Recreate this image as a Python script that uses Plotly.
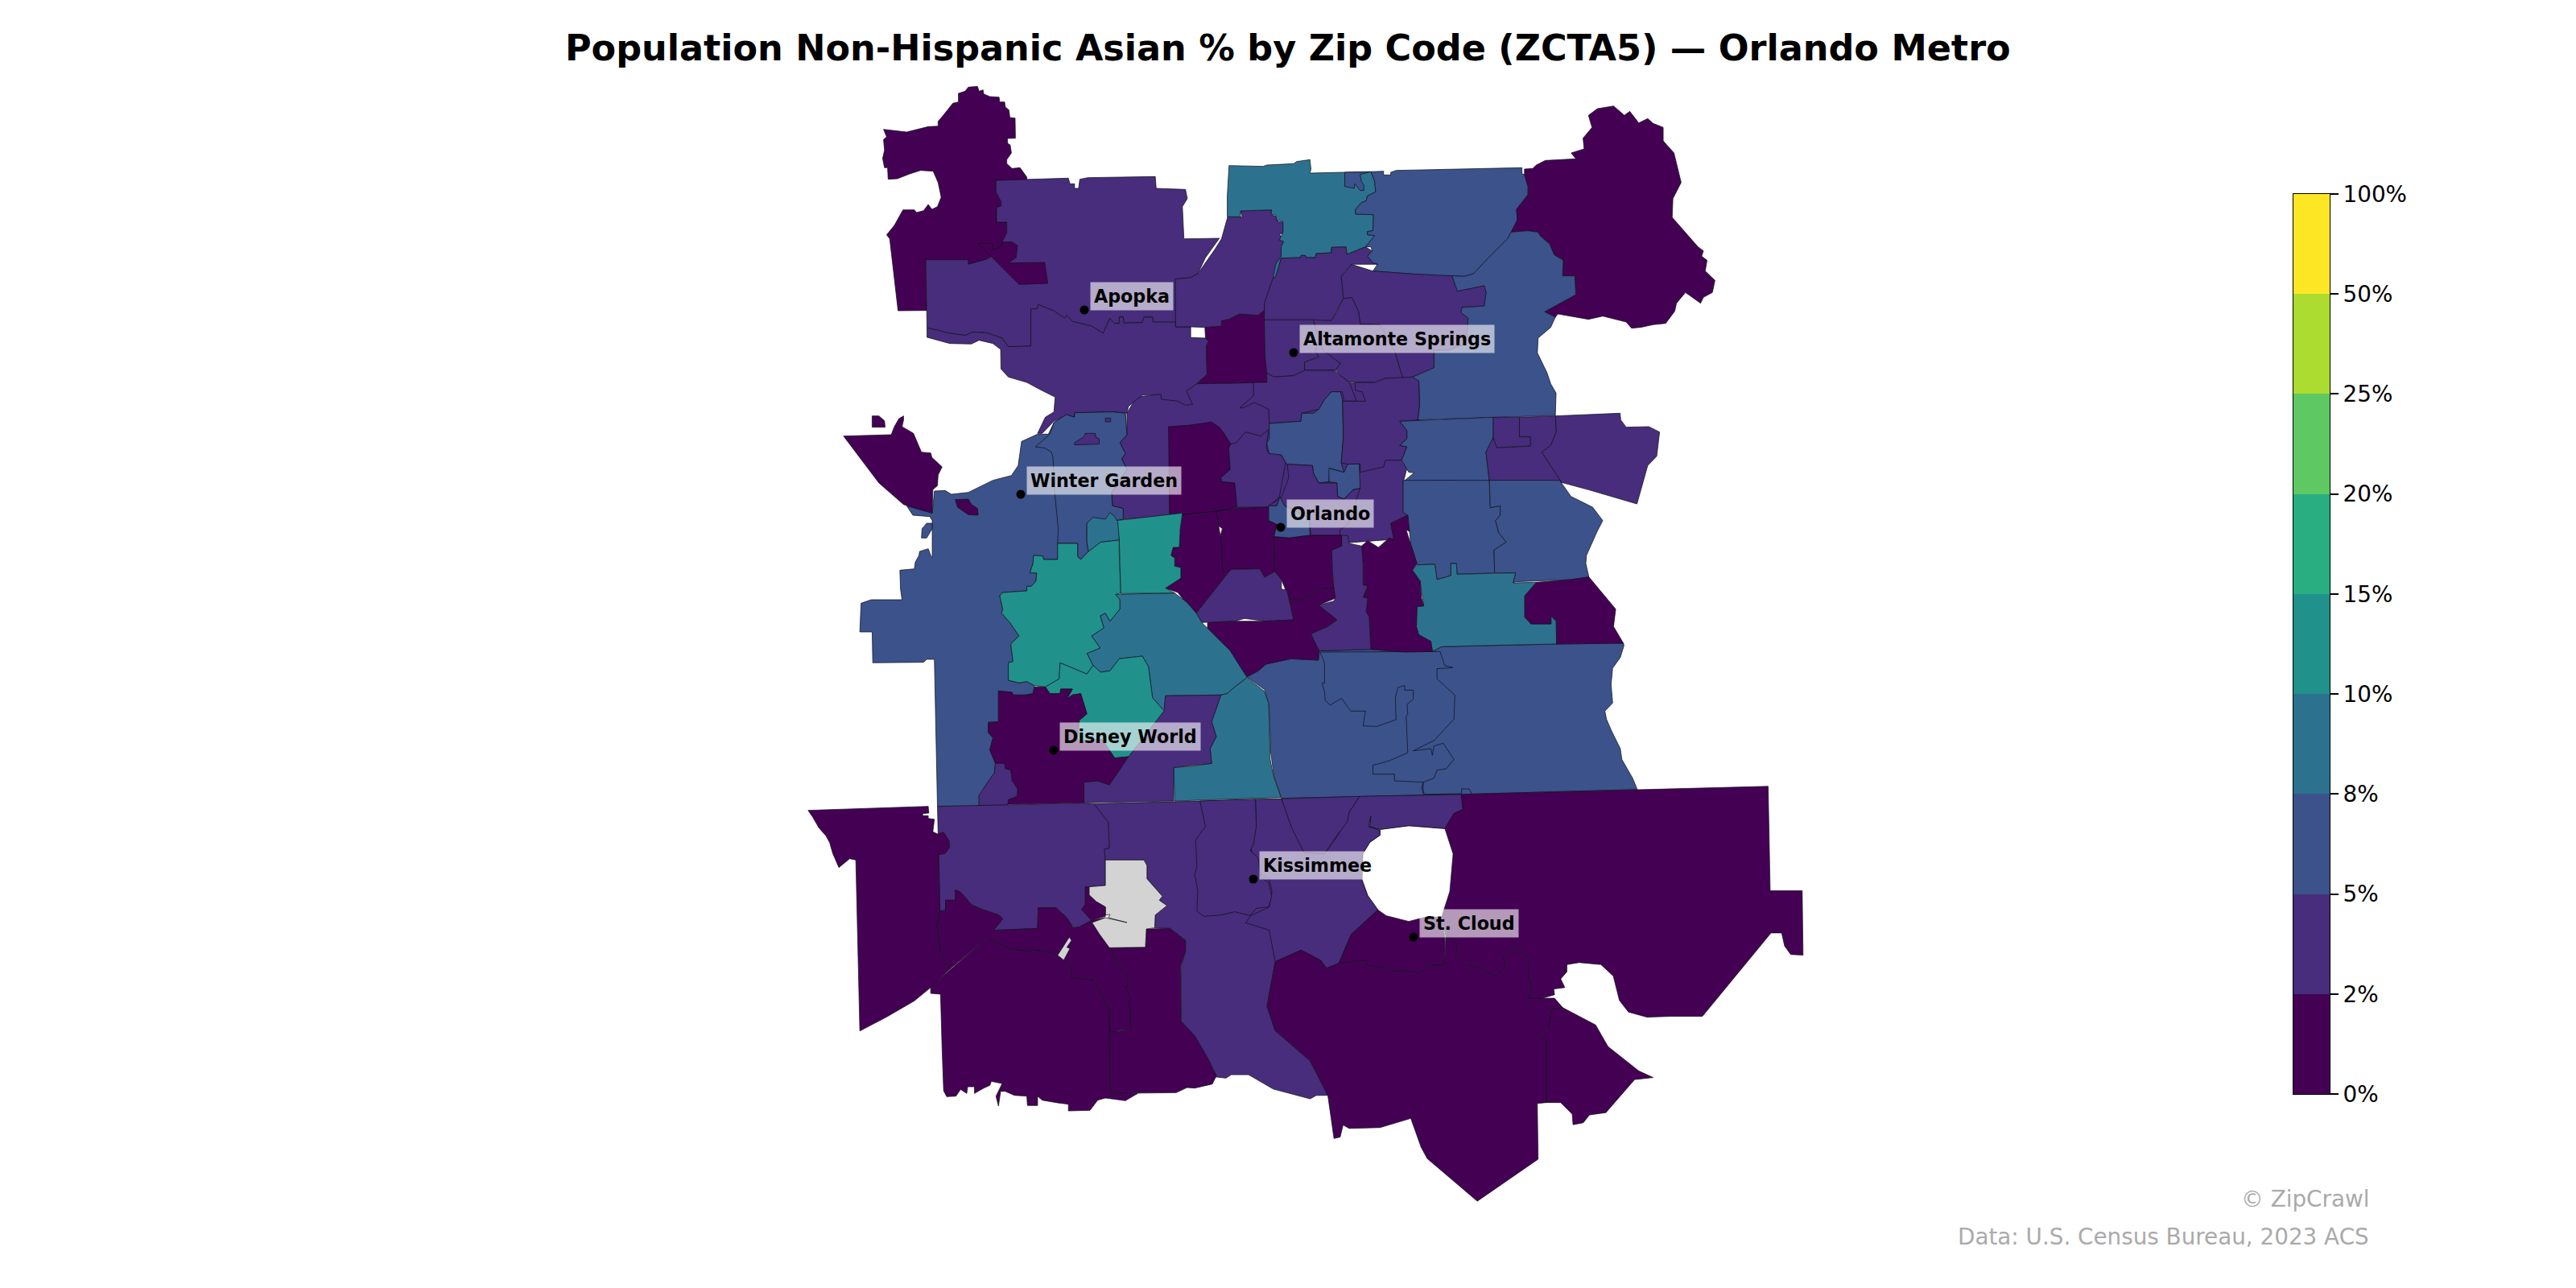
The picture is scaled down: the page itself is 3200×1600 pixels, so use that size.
import numpy as np
import plotly.graph_objects as go

TITLE = "Population Non-Hispanic Asian % by Zip Code (ZCTA5) — Orlando Metro"
BIN_EDGES = [0, 2, 5, 8, 10, 15, 20, 25, 50, 100]
BIN_LABELS = ["0%", "2%", "5%", "8%", "10%", "15%", "20%", "25%", "50%", "100%"]
BIN_COLORS = ["#440154", "#472d7b", "#3b528b", "#2c728e", "#21918c", "#28ae80", "#5ec962", "#addc30", "#fde725"]
NO_DATA = "#d3d3d3"

CITY_NAMES = ["Apopka", "Altamonte Springs", "Winter Garden", "Orlando", "Disney World", "Kissimmee", "St. Cloud"]
CITY_X = [1347, 1607, 1268, 1591, 1309, 1557, 1756]
CITY_Y = [385, 438, 614, 655, 932, 1092, 1164]

# digitising sheets: origin x, origin y, scale x, scale y
SHEETS = {"A": (1000, 90, 2.613, 3), "B": (1500, 110, 2.24, 3), "C": (1000, 500, 2.613, 3),
          "D": (1500, 600, 2.613, 3), "E": (1000, 950, 2.613, 3), "F": (1500, 950, 1.96, 2.8)}

# boundaries, each as (sheet, [x, y, x, y, ...]) runs
core = [("C", [1045,40,1075,-20]), ("A", [1238,1187,1272,1160,1500,1155]), ("B", [590,1100,590,1235]),
        ("D", [635,0,650,120,595,150,605,210,430,225,215,205]),
        ("C", [1510,400,1340,420,1225,420,1033,435,1033,395,998,385,995,335,1045,250,1028,210,1040,190,1022,150,1045,120])]
nw_dark = [("A", [255,212,330,222,400,202,432,200,432,182,445,165,480,115,498,110,498,78,520,70,530,55,560,52,565,70,578,65,580,80,600,90,630,92,632,110,648,110,650,128,662,140,665,168,682,170,683,245,657,246,658,265,666,270,670,300,655,325,655,340,672,358,698,355,720,390,720,420,672,422,670,442,652,442,652,402,620,402,620,445,637,482,637,498,622,503,622,558,655,558,655,598,640,632,640,660,592,695,565,705,530,715,528,698,392,698,395,887,302,888,275,620,265,605,290,570,318,512,355,512,362,522,385,515,400,492,412,510,430,500,442,465,432,410,416,368,375,365,340,378,300,396,270,398,268,355,258,355,252,320,258,290,255,250,265,240])]
apopka_n = [("A", [620,402,722,398,855,394,860,415,875,415,875,432,888,432,892,398,918,392,1137,388,1140,432,1235,436,1241,470,1225,500,1230,620,1345,618,1300,690,1275,750,1250,765,1202,770,1203,948,1130,930,1128,912,1100,912,1095,932,1035,934,1033,912,1020,912,1020,935,1003,935,990,916,968,972,930,945,868,928,850,905,843,915,805,887,757,865,755,880,733,882,733,1020,660,1022,640,990,590,970,545,967,520,980,460,970,430,960,396,952,392,698,530,698,530,715,592,695,640,660,640,632,655,598,655,558,622,558,622,503,637,498,637,482,620,445])]
apopka_s = [("A", [396,952,430,960,460,970,520,980,545,967,590,970,640,990,660,1022,733,1020,733,882,755,880,757,865,805,887,843,915,850,905,868,928,930,945,968,972,990,916,1003,935,1020,935,1020,912,1033,912,1035,934,1095,932,1100,912,1128,912,1130,930,1203,930,1203,948,1252,948,1252,988,1300,990,1310,1000,1303,1020,1305,1125,1272,1160,1238,1187,1258,1237,1235,1240,1210,1225,1157,1218,1155,1200,1095,1203,1075,1220,1050,1245,1045,1270,1000,1265,995,1282,875,1270,875,1288,848,1278,808,1300,770,1345,755,1345,780,1285,808,1265,812,1210,760,1180,720,1155,660,1135,636,1105,635,1032,610,1010,565,998,540,1012,470,1010,396,987])]
apopka_sliver = [("A", [562,637,607,637,610,662,637,650,642,632,672,632,690,645,685,690,660,710,778,708,788,786,695,790])]
forest_dark = [("A", [1298,950,1352,945,1352,925,1375,920,1410,900,1470,905,1492,885,1500,1155,1272,1160,1305,1125,1303,1020,1310,1000,1300,990])]
wekiva = [("A", [1203,770,1250,765,1275,750,1330,660,1352,620,1372,538,1420,538,1412,515,1515,512,1512,530,1532,538,1535,555,1552,558,1552,600,1540,603,1557,630,1545,660,1552,690,1535,720,1522,770,1492,865,1492,885,1470,905,1410,900,1375,920,1352,925,1352,945,1298,950,1252,948,1203,948])]
north_teal = [("B", [60,287,155,290,165,285,240,280,248,272,285,265,288,300,285,315,380,312,455,310,465,345,468,385,445,400,442,418,428,425,412,450,412,468,462,470,460,530,445,533,445,545,465,548,440,590,388,618,385,590,345,592,345,612,302,615,300,630,275,630,272,622,260,622,258,630,205,632,190,700,182,708,190,655,205,625,205,590,212,570,200,565,210,535,210,495,192,490,190,472,178,470,178,452,92,456,92,478,55,478,55,400])]
teal_inset = [("B", [382,312,382,365,408,372,410,355,425,380,435,380,435,360,428,345,425,320,453,310])]
sanford = [("B", [455,310,490,308,490,322,510,322,510,312,525,305,875,295,875,318,882,320,892,365,892,395,860,450,862,490,845,535,835,560,790,620,740,690,715,700,680,698,640,698,560,690,520,685,460,680,473,655,460,650,445,625,458,605,455,590,440,590,465,548,445,545,445,533,460,530,462,470,412,468,412,450,428,425,442,418,445,400,468,385,465,345])]
ne_dark = [("B", [882,320,882,300,905,298,915,285,940,268,1025,262,1012,240,1048,225,1045,185,1070,145,1060,100,1085,75,1130,65,1160,100,1175,85,1200,128,1225,112,1240,130,1268,145,1268,195,1298,240,1318,350,1295,410,1293,480,1365,590,1380,605,1375,625,1390,640,1385,680,1412,715,1405,760,1380,778,1372,800,1330,760,1305,800,1300,830,1275,875,1240,880,1205,890,1180,893,1165,870,1100,848,1060,860,1020,850,975,840,968,852,938,832,1025,768,1022,698,988,698,990,640,965,620,952,580,925,548,920,535,890,530,845,535,862,490,860,450,892,395,892,365])]
oviedo = [("B", [845,535,890,530,920,535,925,548,952,580,965,620,990,640,988,698,1022,698,1025,768,938,832,968,852,955,890,920,930,918,985,945,1060,955,1100,970,1135,968,1218,585,1235,590,1180,588,1090,570,1075,630,1040,630,975,670,975,720,950,725,855,705,835,708,815,770,810,775,760,770,735,705,755,695,755,680,698,715,700,740,690,790,620,835,560])]
casselberry = [("B", [400,655,460,680,560,690,680,698,695,755,770,735,775,760,770,810,708,815,705,835,725,855,720,950,670,975,630,975,630,1040,570,1075,543,1078,520,975,480,880,425,878,420,830,402,780,378,782,372,700,385,680])]
lake_mary = [("B", [205,632,258,630,260,622,272,622,275,630,300,630,302,615,345,612,345,592,385,590,388,618,440,590,458,605,445,625,460,650,473,655,400,655,385,680,372,700,378,782,360,830,345,865,295,862,158,862,158,800,182,708,190,700])]
altamonte = [("B", [158,862,295,862,300,885,310,940,300,980,310,1000,270,1020,270,1050,240,1070,185,1075,165,1060,160,1000])]
maitland = [("B", [378,782,402,780,420,830,425,878,480,880,520,975,543,1078,495,1080,465,1095,410,1095,395,1095,370,1070,355,1045,370,1025,320,975,310,940,300,885,295,862,345,865,360,830])]
sanlando = [("B", [310,940,320,975,370,1025,355,1050,270,1050,270,1020,310,1000,300,980])]
winter_park_n = [("B", [185,1075,240,1070,270,1050,300,1050,355,1050,370,1070,395,1095,415,1165,380,1165,375,1130,345,1130,325,1160,310,1195,262,1210,260,1240,172,1248,170,1195,130,1170,100,1190,90,1190,128,1145,128,1095,165,1095,165,1060])]
college_blue = [("B", [172,1248,260,1240,262,1210,295,1210,310,1195,325,1160,345,1130,370,1130,376,1165,378,1300,372,1395,380,1430,340,1415,338,1465,310,1470,295,1435,292,1405,220,1400,205,1365,172,1365,165,1320,172,1305])]
baldwin_blue = [("B", [338,1415,380,1430,390,1400,422,1398,425,1490,405,1495,380,1530,362,1520,360,1470,338,1465])]
east_column = [("B", [415,1165,440,1165,430,1130,412,1125,410,1095,465,1095,495,1080,570,1075,588,1090,590,1180,585,1235,535,1240,555,1275,555,1305,535,1330,555,1335,540,1385,495,1385,490,1410,425,1430,425,1398,390,1400,372,1395,378,1300,376,1165])]
union_n = [("B", [535,1240,795,1225,795,1300,775,1355,785,1470,660,1460,545,1465,575,1432,560,1430,540,1385,555,1335,535,1330,555,1305,555,1275])]
east_purple = [("B", [968,1220,1148,1210,1150,1235,1165,1262,1228,1260,1258,1280,1250,1370,1225,1405,1195,1548,1150,1530,1060,1495,985,1468,930,1355,955,1330,970,1280])]
bithlo_purple = [("B", [968,1220,970,1280,955,1330,930,1355,985,1468,785,1470,775,1355,795,1300,805,1338,898,1332,898,1298,868,1298,868,1225])]
bithlo_inset = [("B", [795,1225,868,1225,868,1298,898,1298,898,1332,805,1338,795,1300])]
ucf_blue = [("D", [635,-10,915,-10,918,92,950,85,950,120,935,140,945,185,970,220,930,250,932,335,810,340,808,300,790,300,790,345,745,360,738,303,680,305,660,230,650,120,635,110])]
east_blue = [("D", [915,-10,1143,-10,1180,50,1250,90,1283,140,1265,180,1230,270,1228,300,1238,350,1180,360,1000,368,992,372,1000,335,932,335,930,250,970,220,945,185,935,140,950,120,950,85,918,92])]
se_blue = [("D", [362,625,530,620,640,630,730,628,760,610,930,605,1133,600,1350,597,1352,605,1340,650,1315,690,1310,750,1315,820,1290,850,1295,880,1310,920,1340,990,1345,1030,1380,1100,1395,1142,830,1160,240,1175,215,1090,205,1000,200,830,185,770,128,722,165,700,190,675,270,655,360,660])]
se_blue_mid = [("D", [365,630,755,628,770,680,797,688,745,692,745,730,803,790,800,880,735,960,668,998,725,990,730,1015,735,980,765,970,800,1030,775,1065,745,1070,735,1100,700,1115,607,1110,607,1085,537,1085,537,1052,590,1035,650,1005,645,870,650,860,648,825,668,805,668,772,640,772,640,755,618,762,610,800,612,882,550,907,505,905,513,850,465,850,435,802,398,828,382,810,380,780,372,745,380,745,380,670])]
se_tab = [("D", [700,1115,695,1140,705,1160,825,1158,825,1140,850,1140,858,1160,830,1165,700,1165])]
lee_vista = [("D", [665,325,680,305,738,303,745,360,790,345,790,300,808,300,810,340,1000,335,992,372,1068,370,1030,420,1030,500,1050,525,1115,525,1115,495,1132,515,1133,600,930,605,760,610,730,628,725,590,685,565,678,535,680,460,702,458,690,365])]
lake_dark = [("D", [1068,370,1180,360,1238,350,1275,400,1325,470,1318,535,1350,597,1133,600,1132,515,1115,495,1115,525,1050,525,1030,500,1030,420])]
conway_dark = [("D", [500,235,520,215,555,240,590,205,605,210,595,150,650,120,655,180,645,175,660,230,680,300,665,325,690,365,695,430,702,458,680,460,678,535,685,565,725,590,730,628,640,630,530,620,525,500,515,480,520,430,505,425,520,385,505,380,505,300])]
conway_purple = [("D", [403,250,435,235,435,195,455,195,460,225,500,235,505,300,505,380,520,385,505,425,520,430,515,480,525,500,530,620,400,625,362,625,335,562,390,535,420,510,360,455,410,440,415,430,405,390,410,370,405,330])]
west_blue = [("C", [420,330,455,328,475,342,530,335,610,290,670,272,692,235,703,145,755,118,790,118,808,75,848,45,875,55,875,38,1000,35,1040,40,1045,120,1022,150,1040,190,1028,210,1045,250,995,335,998,385,1033,395,1033,435,1010,440,915,450,915,520,920,555,895,585,885,575,885,525,820,525,820,585,775,585,772,572,742,570,740,600,730,635,752,635,750,665,735,685,720,685,720,702,642,708,632,720,642,770,638,785,665,820,695,870,668,900,675,965,660,970,660,1035,695,1045,720,1040,745,1055,740,1085,715,1090,675,1090,672,1080,628,1075,628,1190,595,1192,595,1230,610,1250,600,1295,618,1345,615,1380,590,1420,565,1465,565,1505,430,1505,420,957,395,957,385,968,220,970,218,855,178,855,182,748,215,735,315,735,310,695,308,625,355,620,358,595,370,570,372,555,400,545,410,575,413,575,413,440,405,425,350,420,330,385,413,412])]
west_islet = [("C", [413,450,395,450,380,470,378,505,395,505,413,470])]
ocoee_blue = [("C", [748,165,795,118,808,75,848,45,875,55,875,38,1000,35,1040,40,1045,120,1022,150,1040,190,1028,210,1045,250,995,335,998,385,1033,395,1033,435,1010,440,915,450,915,520,920,555,895,585,885,575,885,525,820,525,822,470,810,330,805,205,800,185,780,170])]
ocoee_square = [("C", [975,58,992,58,992,72,975,72])]
ocoee_hole = [("C", [875,150,905,128,910,115,942,115,945,130,955,135,955,155,875,158])]
west_hole = [("C", [488,362,530,360,540,380,560,395,562,420,530,418,495,390])]
minneola_a = [("C", [218,50,240,50,258,68,260,92,218,92])]
minneola_b = [("C", [125,125,280,120,290,90,305,60,320,50,320,65,315,90,352,115,378,185,408,188,412,205,445,240,432,270,430,310,415,325,413,412,360,395,320,380,240,300,190,225])]
pine_hills = [("C", [1180,90,1245,85,1320,73,1345,92,1360,115,1382,155,1375,170,1380,250,1350,280,1352,295,1395,300,1402,390,1335,405,1225,418,1183,415])]
college_park = [("C", [1382,155,1400,150,1430,110,1480,125,1505,100,1497,165,1505,190,1545,195,1560,225,1540,350,1505,390,1402,390,1395,300,1352,295,1350,280,1380,250,1375,170])]
downtown_purple = [("B", [222,1400,292,1405,295,1435,310,1470,360,1470,362,1520,380,1530,405,1495,425,1490]), ("D", [495,20,465,130,455,155,430,175,430,195,335,195,330,130,250,85,235,52,225,85,198,85]), ("B", [205,1525,226,1450])]
downtown_blue = [("D", [198,85,225,85,235,52,250,85,330,130,333,195,265,205,215,200,225,155,198,140])]
metrowest_dark = [("D", [28,105,95,95,198,90,198,140,225,155,215,200,218,330,185,352,170,320,80,322,50,340,40,205,48,170,25,150])]
south_dark = [("D", [215,200,265,205,333,195,435,195,435,235,403,250,405,330,410,390,370,395,300,435,265,432,240,360,218,330])]
kirkman_dark = [("C", [1225,418,1335,405,1350,510,1358,640,1380,625,1270,785,1235,745,1210,708,1170,692,1195,660,1220,655,1220,615,1200,610,1200,580,1188,570,1195,540,1215,540,1218,470])]
sandlake_purple = [("C", [1270,785,1380,625]), ("D", [80,322,170,320,185,352,218,330,240,360,240,395,258,400,280,510,190,515,120,505,88,515,0,520]), ("C", [1288,820])]
airport_dark = [("D", [0,520,88,515,190,515,280,510,265,432,300,435,370,395,410,390,415,430,360,455,420,510,390,535,335,562,362,625,360,660,270,655,190,675,165,700,128,722,65,620,0,550])]
doctor_teal = [("C", [1008,715,1160,710,1200,710,1240,745,1270,785,1288,820,1380,925,1435,1025,1395,1060,1370,1085,1350,1090,1170,1093,1168,1150,1128,1100,1115,985,1095,945,1020,955,990,1000,960,1005,935,980,915,935,958,915,930,870,970,840,958,795,975,785,990,815,1022,770,1022,735])]
celebration_teal = [("C", [1435,1025,1490,1075,1505,1120,1510,1330,1520,1390,1545,1472,1200,1485,1197,1360,1260,1355,1320,1345,1315,1290,1335,1245,1320,1190,1350,1090,1370,1085,1395,1060])]
reunion_purple = [("C", [1170,1093,1350,1090,1320,1190,1335,1245,1315,1290,1320,1345,1197,1360,1197,1485,905,1492,905,1415,950,1410,988,1425,1050,1320,1165,1150])]
horizon_green = [("C", [820,525,885,525,885,575,895,585,920,555,960,520,1020,512,1020,570,1025,710,1008,715,1022,735,1022,770,990,815,975,785,958,795,970,840,930,870,958,915,915,935,935,980,915,1012,870,990,828,970,825,1030,780,1060,745,1055,720,1040,695,1045,660,1035,660,970,675,965,668,900,695,870,665,820,638,785,642,770,632,720,642,708,720,702,720,685,735,685,750,665,752,635,730,635,740,600,742,570,772,572,775,585,820,585])]
windermere_green = [("C", [1010,440,1225,412,1218,470,1215,540,1195,540,1188,570,1200,580,1200,610,1220,615,1220,655,1170,692,1200,710,1025,712,1022,570,1020,512])]
disney_green = [("C", [828,970,870,990,915,1012,935,980,960,1005,990,1000,1020,955,1095,945,1115,985,1128,1100,1165,1150,1050,1320,1005,1325,985,1290,965,1255,885,1260,890,1185,915,1160,895,1085,868,1090,850,1105,868,1068,830,1068,828,1085,795,1085,780,1060,825,1030])]
gotha_teal = [("C", [915,450,935,428,975,435,990,410,1005,425,1015,445,1020,512,960,520,920,555,915,520])]
fourcorners_dark = [("C", [628,1075,672,1080,675,1090,715,1090,740,1085,745,1060,780,1060,795,1085,828,1085,830,1068,868,1068,850,1105,868,1090,895,1085,915,1160,890,1185,885,1260,965,1255,985,1290,1005,1325,1050,1320,988,1425,950,1410,905,1415,905,1492,658,1497,660,1480,688,1468,690,1440,672,1410,668,1370,650,1365,648,1345,618,1345,600,1295,610,1250,595,1230,595,1192,628,1190])]
bridge_purple = [("C", [565,1505,565,1465,590,1420,615,1380,618,1345,648,1345,650,1365,668,1370,672,1410,690,1440,688,1468,660,1480,658,1505])]
davenport_purple = [("E", [430,155,565,152,658,150,905,143,938,145,985,215,988,310,972,315,975,355,975,450,910,455,910,520,898,540,930,580,890,605,870,608,850,570,815,533,757,533,755,610,612,617,642,575,630,560,582,542,540,522,525,500,505,475,488,467,488,505,456,505,456,543,438,545,434,335,455,330,468,310,468,285,450,252,432,258])]
poinciana_purple = [("E", [938,145,1282,135,1462,128]), ("F", [117,120,180,118,370,110,618,103,622,155,600,170,578,222,490,212,420,225,395,215,398,178,392,215,420,228,420,245,395,270,378,310,376,400,390,455,415,505,350,590,320,690,290,708,275,680,228,645,165,685,150,800,145,840,165,925,250,1030,293,1150,265,1150,250,1162,160,1128,100,1078,58,1078,45,1090,15,1085,0,1040]), ("E", [1335,1160,1310,1100,1265,1010,1220,955,1222,750,1235,695,1235,655,1185,610,1135,608,1137,560,1175,525,1150,505,1160,490,1110,425,1110,375,1100,355,975,355,972,315,988,310,985,215])]
east_kissimmee = [("F", [117,120,180,118,235,305,285,310,320,240,345,165,370,110,618,103,622,155,600,170,578,222,490,212,420,225,395,215,398,178,392,215,420,228,420,245,395,270,378,310,376,400,390,455,415,505,350,590,320,690,290,708,275,680,228,645,165,685,150,575,93,550,105,525,150,495,157,440,150,400,130,380,105,290,118,210])]
kissimmee_wedge = [("F", [180,118,370,110,345,165,340,200,318,240,285,310,235,305,205,220])]
kissimmee_west = [("E", [1282,135,1462,128,1465,230,1455,300,1445,320,1470,345,1480,420,1505,440,1515,490,1505,530,1465,535,1445,562,1395,548,1350,560,1295,565,1272,545,1275,470,1265,410,1272,380,1268,280,1300,230])]
nodata_main = [("E", [975,355,1100,355,1110,375,1110,425,1160,490,1150,505,1175,525,1137,560,1135,608,1108,612,1105,680,988,682,955,630,932,588,975,570,1045,588,985,570,990,558,975,560,975,530,945,510,922,485,922,455,975,450])]
nodata_sliver = [("E", [858,642,865,655,850,680,860,685,840,728,820,710])]
lobe_dark = [("E", [910,455,922,455,922,485,945,510,975,530,975,565,930,580,898,540,910,520])]
polk_dark = [("E", [10,170,400,155,402,180,382,182,382,190,400,190,400,200,420,203,415,250,430,258,450,252,468,285,468,310,455,330,434,335,438,545,428,597,440,700,470,762,410,828,355,880,265,940,178,992,165,355,145,350,110,383,90,330,80,290,68,265,45,235,25,195])]
haines_dark = [("E", [438,545,456,543,456,505,488,505,488,467,505,475,525,500,540,522,582,542,630,560,642,575,612,617,755,610,757,533,815,533,850,570,870,608,890,605,930,580,975,570,932,590,975,660,990,682,1010,730,1040,770,1050,825,1052,860,1058,980,1020,990,1005,997,988,995,988,915,935,802,865,795,863,750,820,710,770,692,715,695,670,687,590,645,470,762,440,700,428,597])]
south_polk_dark = [("E", [590,645,670,687,715,695,770,692,820,710,863,750,865,795,935,802,988,915,990,1225,1080,1225,1040,1252,975,1242,950,1250,925,1288,885,1290,855,1290,855,1265,820,1260,770,1250,755,1235,755,1270,722,1270,720,1235,680,1232,650,1217,635,1217,628,1272,620,1235,640,1188,605,1180,600,1195,580,1205,550,1225,550,1200,528,1200,525,1225,505,1210,490,1235,460,1237,450,1215,445,1060,440,855,408,852,408,828])]
lakewales_dark = [("E", [988,995,1005,997,1058,980,1052,860,1040,825,1050,825,1040,770,1010,730,990,682,1105,680,1108,612,1185,610,1235,655,1235,695,1220,750,1220,955,1265,1010,1310,1100,1335,1160,1322,1190,1265,1205,1240,1203,1205,1222,990,1225])]
stcloud_ne = [("F", [618,103,1365,75,1370,438,1448,438,1450,662,1420,660,1405,630,1398,585,1372,585,1205,875,1130,875,1070,878,1025,860,1003,820,988,735,958,695,905,688,875,695,875,720,860,745,870,775,843,780,845,800,815,812,780,812,790,780,780,730,785,675,745,635,720,665,725,700,705,738,665,710,630,695,605,650,605,620,580,595,570,530,590,440,598,310,578,222,600,170,622,155])]
stcloud_town = [("F", [415,505,435,525,490,545,530,530,570,530,578,600,578,695,540,700,518,725,480,715,455,720,435,705,390,700,385,680,320,690,350,590])]
osceola_south = [("F", [165,685,228,645,275,680,290,708,320,690,385,680,390,700,435,705,455,720,480,715,518,725,540,700,578,695,580,595,605,620,605,650,630,695,665,710,705,738,725,700,720,665,745,635,785,675,780,730,790,780,780,812,845,812,865,845,838,850,830,915,810,945,825,960,825,1175,803,1178,805,1372,657,1518,535,1370,520,1330,495,1230,420,1262,345,1265,330,1253,323,1295,308,1300,293,1150,250,1030,165,925,145,840,150,800])]
osceola_se = [("F", [838,850,865,845,945,905,975,980,1050,1065,1085,1088,1040,1095,970,1210,930,1218,915,1245,890,1252,888,1215,860,1175,825,1175,825,960,810,945,830,915])]

# drawing order and estimated share (%) for each boundary; None means no data
ZONES = [core, nw_dark, apopka_n, apopka_s, apopka_sliver, forest_dark, wekiva, north_teal, teal_inset, sanford, ne_dark, oviedo,
         casselberry, lake_mary, altamonte, maitland, sanlando, winter_park_n, college_blue, baldwin_blue, east_column, union_n,
         east_purple, bithlo_purple, bithlo_inset, ucf_blue, east_blue, se_blue, se_blue_mid, se_tab, lee_vista, lake_dark,
         conway_dark, conway_purple, west_blue, west_islet, ocoee_blue, ocoee_square, ocoee_hole, west_hole, minneola_a, minneola_b,
         pine_hills, college_park, downtown_purple, downtown_blue, metrowest_dark, south_dark, kirkman_dark, sandlake_purple,
         airport_dark, doctor_teal, celebration_teal, reunion_purple, horizon_green, windermere_green, disney_green, gotha_teal,
         fourcorners_dark, bridge_purple, davenport_purple, poinciana_purple, east_kissimmee, kissimmee_wedge, kissimmee_west,
         polk_dark, haines_dark, south_polk_dark, lakewales_dark, stcloud_ne, stcloud_town,
         osceola_south, osceola_se, nodata_main, nodata_sliver, lobe_dark]
ZONE_PCT = [3.5, 1.2, 3.4, 3.6, 1.5, 1.6, 3.9, 9.0, 6.2, 6.6, 1.4, 6.8,
            4.2, 4.4, 4.6, 4.1, 4.0, 3.8, 6.1, 5.8, 4.3, 6.4,
            3.2, 3.6, 3.9, 7.1, 6.3, 6.7, 6.9, 6.5, 8.8, 1.7,
            1.5, 3.4, 6.2, 6.0, 6.6, 3.1, 3.4, 1.1, 0.9, 1.3,
            1.8, 4.1, 4.4, 5.4, 1.9, 1.6, 1.7, 3.7,
            1.8, 9.3, 9.1, 4.0, 12.4, 13.1, 12.0, 9.2,
            1.6, 2.8, 3.1, 3.3, 3.6, 3.0, 3.8,
            0.8, 1.2, 0.9, 1.1, 1.4, 1.6,
            1.3, 0.7, None, None, 1.0]


def to_map(segments):
    xs, ys = [], []
    for sheet, flat in segments:
        ox, oy, sx, sy = SHEETS[sheet]
        pts = np.array(flat, dtype=float).reshape(-1, 2)
        xs += list(ox + pts[:, 0] / sx)
        ys += list(oy + pts[:, 1] / sy)
    return xs + xs[:1], ys + ys[:1]


def color_of(v):
    if v is None:
        return NO_DATA
    return BIN_COLORS[int(np.digitize(v, BIN_EDGES)) - 1]


fig = go.Figure()
for zone, pct in zip(ZONES, ZONE_PCT):
    xs, ys = to_map(zone)
    fig.add_trace(go.Scatter(x=xs, y=ys, mode="lines", fill="toself", fillcolor=color_of(pct),
                             line=dict(color="rgba(15,15,25,0.8)", width=0.9), hoverinfo="skip", showlegend=False))

fig.add_trace(go.Scatter(x=CITY_X, y=CITY_Y, mode="markers", marker=dict(color="black", size=11),
                         hoverinfo="skip", showlegend=False))

for name, x, y in zip(CITY_NAMES, CITY_X, CITY_Y):
    fig.add_annotation(x=x, y=y, text=f"<b>{name}</b>", showarrow=False, xanchor="left", yanchor="middle",
                       xshift=7, yshift=17, bgcolor="rgba(255,255,255,0.6)", borderpad=4,
                       font=dict(family="DejaVu Sans", size=22.2, color="black"))

# colour bar as a heatmap on its own axes
fig.add_trace(go.Heatmap(z=[[i] for i in range(len(BIN_COLORS))], x=[0], y=[i + 0.5 for i in range(len(BIN_COLORS))],
                         colorscale=[[i / 8, c] for i, c in enumerate(BIN_COLORS)], showscale=False,
                         hoverinfo="skip", xaxis="x2", yaxis="y2"))

fig.add_annotation(text=f"<b>{TITLE}</b>", x=1600, y=59, showarrow=False, xanchor="center", yanchor="middle",
                   font=dict(family="DejaVu Sans", size=44.5, color="black"))
fig.add_annotation(text="© ZipCrawl", x=2945, y=1489, showarrow=False, xanchor="right", yanchor="middle",
                   font=dict(family="DejaVu Sans", size=27.8, color="#aaaaaa"))
fig.add_annotation(text="Data: U.S. Census Bureau, 2023 ACS", x=2945, y=1536, showarrow=False, xanchor="right", yanchor="middle",
                   font=dict(family="DejaVu Sans", size=27.8, color="#aaaaaa"))

fig.update_layout(
    width=3200, height=1600, margin=dict(l=0, r=0, t=0, b=0, pad=0, autoexpand=False), paper_bgcolor="white", plot_bgcolor="white",
    xaxis=dict(range=[0, 3200], visible=False, domain=[0, 1]),
    yaxis=dict(range=[1600, 0], visible=False, domain=[0, 1]),
    xaxis2=dict(domain=[2849 / 3200, 2894 / 3200], anchor="y2", range=[-0.5, 0.5], showticklabels=False, ticks="",
                showgrid=False, zeroline=False, showline=True, linecolor="black", linewidth=1, mirror=True),
    yaxis2=dict(domain=[1 - 1359 / 1600, 1 - 241 / 1600], anchor="x2", side="right", range=[0, 9],
                tickvals=list(range(10)), ticktext=BIN_LABELS, ticks="outside", ticklen=10, tickwidth=1.5, tickcolor="black",
                showgrid=False, zeroline=False, showline=True, linecolor="black", linewidth=1, mirror=True,
                tickfont=dict(family="DejaVu Sans", size=27.8, color="black")),
)

fig.write_html("out.html", config={"displayModeBar": False},
               post_script="document.body.style.margin='0';document.documentElement.style.overflow='hidden';")
